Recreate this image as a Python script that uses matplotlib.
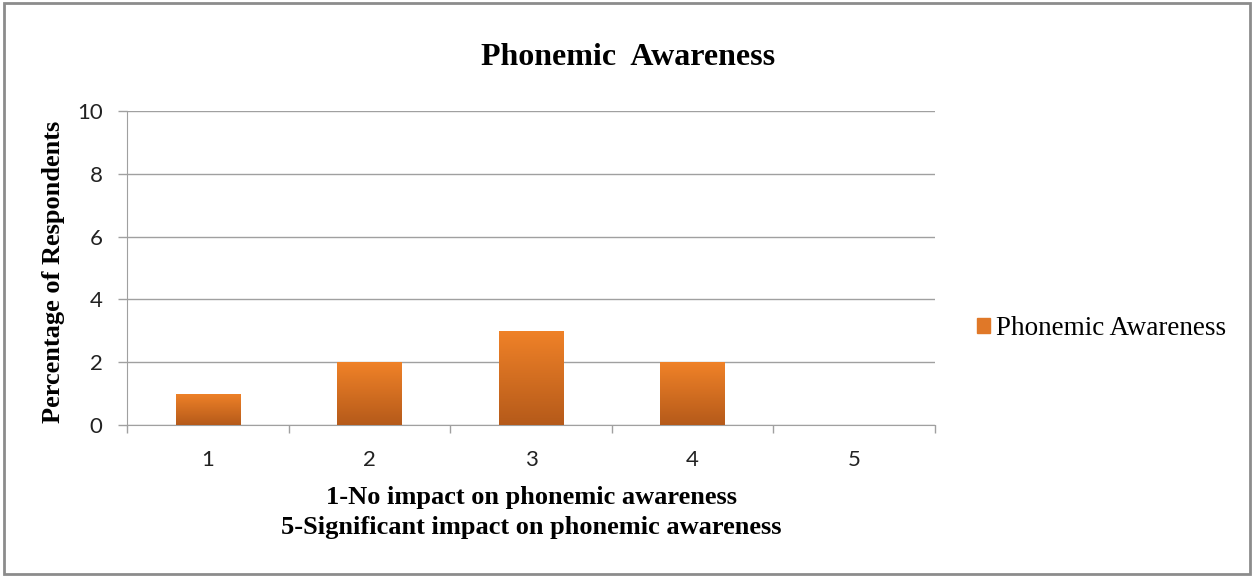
import numpy as np
import matplotlib.pyplot as plt
from matplotlib.colors import LinearSegmentedColormap
from matplotlib.patches import Rectangle

categories = ["1", "2", "3", "4", "5"]
values = [1, 2, 3, 2, 0]
series_name = "Phonemic Awareness"
title = "Phonemic  Awareness"
y_label = "Percentage of Respondents"
x_label = "1-No impact on phonemic awareness\n5-Significant impact on phonemic awareness"
y_ticks = [0, 2, 4, 6, 8, 10]

serif = "Liberation Serif"
sans = "Lato"
grid_color = "#a0a0a0"

fig = plt.figure(figsize=(12.54, 5.77), dpi=100)
ax = fig.add_axes([0.1013, 0.2634, 0.6443, 0.5442])

x = np.arange(len(categories))
bars = ax.bar(x, values, width=0.4, color="#e07828", edgecolor="none", zorder=2,
              label=series_name)

# vertical gradient on each bar, like the office chart
cmap = LinearSegmentedColormap.from_list("orange", ["#b55a1a", "#f08228"])
grad = np.linspace(0, 1, 256).reshape(-1, 1)
for b in bars:
    if b.get_height() <= 0:
        continue
    im = ax.imshow(grad, cmap=cmap, origin="lower", aspect="auto", zorder=3,
                   extent=(b.get_x(), b.get_x() + b.get_width(), 0, b.get_height()))
    im.set_clip_path(b)

ax.set_xlim(-0.5, len(categories) - 0.5)
ax.set_ylim(0, 10)
ax.set_yticks(y_ticks)
ax.yaxis.grid(True, color=grid_color, linewidth=1)
ax.set_axisbelow(True)

ax.set_xticks(x)
ax.set_xticklabels(categories)
ax.set_xticks(np.arange(-0.5, len(categories)), minor=True)
ax.tick_params(axis="x", which="major", length=0, pad=18)
ax.tick_params(axis="x", which="minor", length=6, color=grid_color, width=1)
ax.tick_params(axis="y", length=6.5, color=grid_color, width=1, pad=11)
for lab in ax.get_xticklabels() + ax.get_yticklabels():
    lab.set_fontfamily(sans)
    lab.set_fontsize(16)
    lab.set_color("#222222")

for s in ["top", "right"]:
    ax.spines[s].set_visible(False)
ax.spines["left"].set_color(grid_color)
ax.spines["bottom"].set_color(grid_color)

ax.set_ylabel(y_label, fontfamily=serif, fontweight="bold", fontsize=19, va="center")
ax.yaxis.set_label_coords(-0.091, 0.487)
ax.set_xlabel(x_label, fontfamily=serif, fontweight="bold", fontsize=19, va="center",
              linespacing=1.38)
ax.xaxis.set_label_coords(0.5, -0.279)
fig.text(0.501, 0.901, title, ha="center", va="center", fontfamily=serif,
         fontweight="bold", fontsize=23)

leg = fig.legend(handles=[Rectangle((0, 0), 1, 1, color="#e07828")], labels=[series_name],
                 loc="center left", bbox_to_anchor=(0.779, 0.43), frameon=False,
                 prop={"family": serif, "size": 19.5}, handlelength=0.5, handleheight=0.5,
                 handletextpad=0.2, borderpad=0, borderaxespad=0)

# grey frame around the whole chart
fig.patches.append(Rectangle((0.003, 0.005), 0.994, 0.99, transform=fig.transFigure,
                             fill=False, edgecolor="#8c8c8c", linewidth=2))

fig.savefig("out.png", dpi=100)
